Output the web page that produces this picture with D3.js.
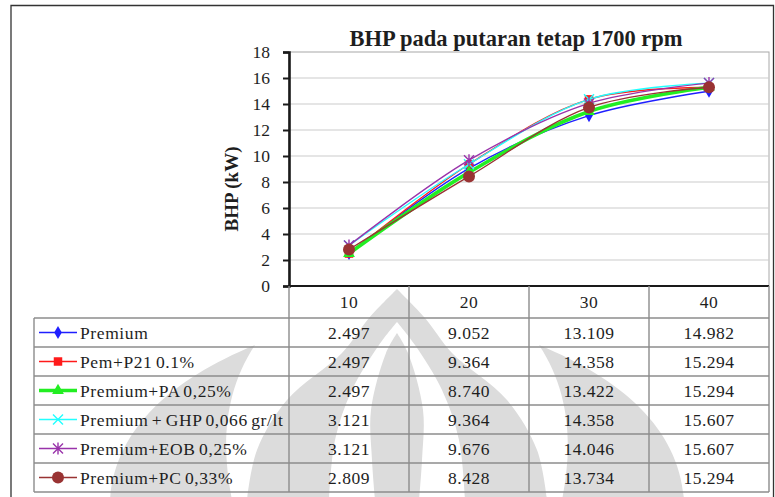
<!DOCTYPE html>
<html>
<head>
<meta charset="utf-8">
<script src="https://cdn.jsdelivr.net/npm/d3@7"></script>
<style>
  body { margin: 0; background: #fff; }
  svg { display: block; }
  svg text { font-family: "Liberation Serif", "Times New Roman", serif; }
</style>
</head>
<body>
<svg id="chart" width="775" height="497"></svg>
<script>
// data
const categories = ["10", "20", "30", "40"];
const seriesNames = ["Premium", "Pem+P21 0.1%", "Premium+PA 0,25%", "Premium + GHP 0,066 gr/lt", "Premium+EOB 0,25%", "Premium+PC 0,33%"];
const premium = [2.497, 9.052, 13.109, 14.982];
const pemP21 = [2.497, 9.364, 14.358, 15.294];
const premiumPA = [2.497, 8.740, 13.422, 15.294];
const premiumGHP = [3.121, 9.364, 14.358, 15.607];
const premiumEOB = [3.121, 9.676, 14.046, 15.607];
const premiumPC = [2.809, 8.428, 13.734, 15.294];
const yTickValues = [0, 2, 4, 6, 8, 10, 12, 14, 16, 18];

const seriesValues = [premium, pemP21, premiumPA, premiumGHP, premiumEOB, premiumPC];
const colors = ["#1f1fff", "#ff1a1a", "#22ee22", "#22ffff", "#9933aa", "#993333"];
const widths = [1.4, 1.4, 3.5, 1.4, 1.4, 1.4];
const markerKind = ["diamond", "square", "triangle", "x", "star", "circle"];

const svg = d3.select("#chart");
const plot = {x0: 289, x1: 769, y0: 52, y1: 286};
const rowH = 29, headH = 32, tableX = 34;
const gridColor = "#cccccc", tableColor = "#8c8c8c", textColor = "#1e1e1e";
const serif = "Liberation Serif";

const x = d3.scaleBand().domain(categories).range([plot.x0, plot.x1]);
const y = d3.scaleLinear().domain([0, 18]).range([plot.y1, plot.y0]);

// outer frame
svg.append("path").attr("d", "M11,497 V5.5 H773.5 V497")
  .attr("fill", "none").attr("stroke", "#333").attr("stroke-width", 1.3);

// faint watermark behind the table
const wm = svg.append("g").attr("fill", "#dcdcdc");
const cx = 397;
const half = (pts, dir) => pts.map(p => [cx + dir * p[0], p[1]]);
const shape = (pts) => {
  const left = half(pts, -1), right = half(pts, 1).reverse();
  return d3.line().curve(d3.curveCatmullRom)(left) + "L" + d3.line().curve(d3.curveCatmullRom)(right).slice(1) + "Z";
};
wm.append("path").attr("d", "M110,500 C115,430 170,380 255,345 C222,395 222,450 232,500 Z");
wm.append("path").attr("d", "M684,500 C679,430 624,380 539,345 C572,395 572,450 562,500 Z");
wm.append("path").attr("d", shape([[0, 289], [28, 318], [55, 353], [110, 400], [140, 450], [150, 500]]));
wm.append("path").attr("fill", "#fff").attr("d", shape([[0, 322], [18, 345], [45, 390], [62, 440], [68, 500]]));
wm.append("path").attr("d", shape([[0, 333], [11, 353], [26, 410], [25, 460], [22, 500]]));

// plot area
svg.append("rect").attr("x", plot.x0).attr("y", plot.y0)
  .attr("width", plot.x1 - plot.x0).attr("height", plot.y1 - plot.y0)
  .attr("fill", "#fff").attr("stroke", "#a8a8a8").attr("stroke-width", 1);

svg.append("g").selectAll("line").data(yTickValues.filter(d => d > 0 && d < 18))
  .join("line")
  .attr("x1", plot.x0).attr("x2", plot.x1)
  .attr("y1", d => y(d)).attr("y2", d => y(d))
  .attr("stroke", gridColor).attr("stroke-width", 1.2);

// y axis
const yAxis = svg.append("g").attr("transform", `translate(${plot.x0},0)`)
  .call(d3.axisLeft(y).tickValues(yTickValues).tickSize(6).tickPadding(13));
yAxis.attr("font-family", serif);
yAxis.select(".domain").attr("stroke", "#1a1a1a").attr("stroke-width", 2.6);
yAxis.selectAll(".tick line").attr("stroke", "#1a1a1a").attr("stroke-width", 2);
yAxis.selectAll(".tick text").attr("font-family", serif).attr("font-size", 17.5).attr("fill", textColor);

// x axis line
svg.append("line").attr("x1", plot.x0 - 1).attr("x2", plot.x1).attr("y1", plot.y1).attr("y2", plot.y1)
  .attr("stroke", "#1a1a1a").attr("stroke-width", 2);

// titles
svg.append("text").attr("x", 516).attr("y", 46).attr("text-anchor", "middle")
  .attr("font-family", serif).attr("font-weight", "bold").attr("font-size", 22.5).attr("fill", textColor)
  .text("BHP pada putaran tetap 1700 rpm");
svg.append("text").attr("transform", `translate(238,${(plot.y0 + plot.y1) / 2 + 20}) rotate(-90)`)
  .attr("text-anchor", "middle").attr("font-family", serif).attr("font-weight", "bold")
  .attr("font-size", 19).attr("fill", textColor)
  .text("BHP (kW)");

// markers
function marker(g, kind, color) {
  if (kind === "diamond") g.append("path").attr("d", d3.symbol(d3.symbolDiamond, 50)()).attr("fill", color);
  else if (kind === "square") g.append("path").attr("d", d3.symbol(d3.symbolSquare, 72)()).attr("fill", color);
  else if (kind === "triangle") g.append("path").attr("d", d3.symbol(d3.symbolTriangle, 60)()).attr("fill", color);
  else if (kind === "circle") g.append("circle").attr("r", 6).attr("fill", color);
  else {
    const s = 5;
    let d = `M${-s},${-s}L${s},${s}M${-s},${s}L${s},${-s}`;
    if (kind === "star") d += `M0,${-s - 1}V${s + 1}`;
    g.append("path").attr("d", d).attr("stroke", color).attr("stroke-width", 1.4).attr("fill", "none");
  }
}

const line = d3.line()
  .x((d, i) => x(categories[i]) + x.bandwidth() / 2)
  .y(d => y(d))
  .curve(d3.curveCatmullRom.alpha(0.5));

seriesValues.forEach((vals, si) => {
  const g = svg.append("g").attr("class", "series");
  g.append("path").attr("d", line(vals)).attr("fill", "none")
    .attr("stroke", colors[si]).attr("stroke-width", widths[si]);
  vals.forEach((v, i) => {
    const m = g.append("g").attr("transform", `translate(${x(categories[i]) + x.bandwidth() / 2},${y(v)})`);
    marker(m, markerKind[si], colors[si]);
  });
});

// data table
const tableTop = plot.y1 + headH;
const tableBottom = tableTop + rowH * seriesNames.length;
const tbl = svg.append("g").attr("stroke", tableColor).attr("stroke-width", 1.4);
d3.range(seriesNames.length + 1).forEach(r => {
  tbl.append("line").attr("x1", tableX).attr("x2", plot.x1)
    .attr("y1", tableTop + r * rowH).attr("y2", tableTop + r * rowH);
});
tbl.append("line").attr("x1", tableX).attr("x2", tableX).attr("y1", tableTop).attr("y2", tableBottom);
[plot.x0, ...categories.map(c => x(c) + x.bandwidth())].forEach(xx => {
  tbl.append("line").attr("x1", xx).attr("x2", xx).attr("y1", plot.y1).attr("y2", tableBottom);
});

svg.append("g").selectAll("text").data(categories).join("text")
  .attr("x", d => x(d) + x.bandwidth() / 2).attr("y", plot.y1 + 22)
  .attr("text-anchor", "middle").attr("font-family", serif).attr("font-size", 17.5)
  .attr("letter-spacing", 0.6).attr("fill", textColor)
  .text(d => d);

seriesNames.forEach((name, si) => {
  const cy = tableTop + si * rowH + rowH / 2;
  const g = svg.append("g");
  g.append("line").attr("x1", tableX + 5).attr("x2", tableX + 43).attr("y1", cy).attr("y2", cy)
    .attr("stroke", colors[si]).attr("stroke-width", widths[si]);
  marker(g.append("g").attr("transform", `translate(${tableX + 24},${cy})`), markerKind[si], colors[si]);
  g.append("text").attr("x", tableX + 46).attr("y", cy + 6)
    .attr("font-family", serif).attr("font-size", 17.5).attr("letter-spacing", 0.6)
    .attr("word-spacing", -1.5).attr("fill", textColor).text(name);
  g.selectAll(".val").data(seriesValues[si]).join("text").attr("class", "val")
    .attr("x", (d, i) => x(categories[i]) + x.bandwidth() / 2).attr("y", cy + 6)
    .attr("text-anchor", "middle").attr("font-family", serif).attr("font-size", 17.5)
    .attr("letter-spacing", 0.5).attr("fill", textColor)
    .text(d => d3.format(".3f")(d));
});
</script>
</body>
</html>
